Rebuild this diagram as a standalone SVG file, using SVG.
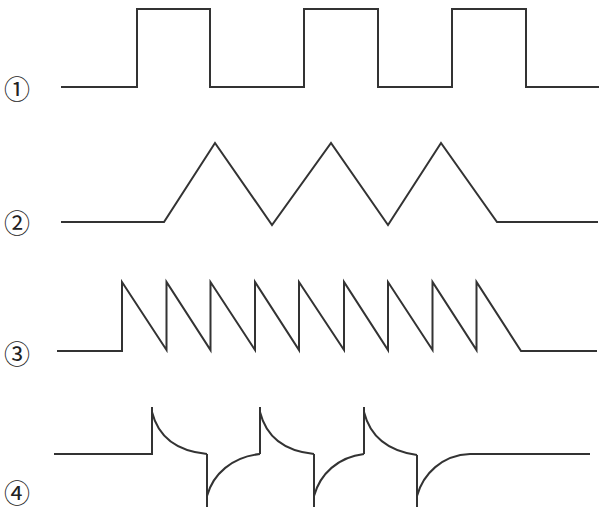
<svg xmlns="http://www.w3.org/2000/svg" width="600" height="517" viewBox="0 0 600 517">
<style>
.w{fill:none;stroke:#333;stroke-width:2;stroke-linejoin:miter;stroke-linecap:butt}
.lbl{font-family:"Noto Sans CJK JP","DejaVu Sans",sans-serif;font-size:26px;fill:#222;text-anchor:middle;dominant-baseline:central}
</style>
<rect width="600" height="517" fill="#fff"/>
<g id="labels">
<text class="lbl" x="17" y="87">①</text>
<text class="lbl" x="17" y="221">②</text>
<text class="lbl" x="17" y="352">③</text>
<text class="lbl" x="17" y="491">④</text>
</g>
<g id="wave1">
<path class="w" d="M61,87 H137 V9 H210 V87 H304 V9 H378 V87 H452 V9 H526 V87 H599"/>
</g>
<g id="wave2">
<path class="w" d="M61,222 H164 L215,143 L272,225 L331,143 L388,225 L441,143 L497,222 H598"/>
</g>
<g id="wave3">
<path class="w" d="M57,351 H122 V282 L166.5,350 V282 L210.5,350 V282 L255,350 V282 L299,350 V282 L344,350 V282 L388,350 V282 L432.5,350 V282 L476.5,350 V282 L521,351 H597"/>
</g>
<g id="wave4">
<path class="w" d="M54,454 H152 V407"/>
<path class="w" d="M152,412 C158,436 176,451 207,454"/>
<path class="w" d="M207,454 V507"/>
<path class="w" d="M207,496 C213,474 232,457 260,454"/>
<path class="w" d="M260,454 V407"/>
<path class="w" d="M260,412 C266,436 284,451 314,454"/>
<path class="w" d="M314,454 V507"/>
<path class="w" d="M314,496 C320,474 338,457 364,454"/>
<path class="w" d="M364,454 V407"/>
<path class="w" d="M364,412 C370,436 388,451 417,455"/>
<path class="w" d="M417,455 V507"/>
<path class="w" d="M417,496 C423,474 442,455 470,454 H590"/>
</g>
</svg>
